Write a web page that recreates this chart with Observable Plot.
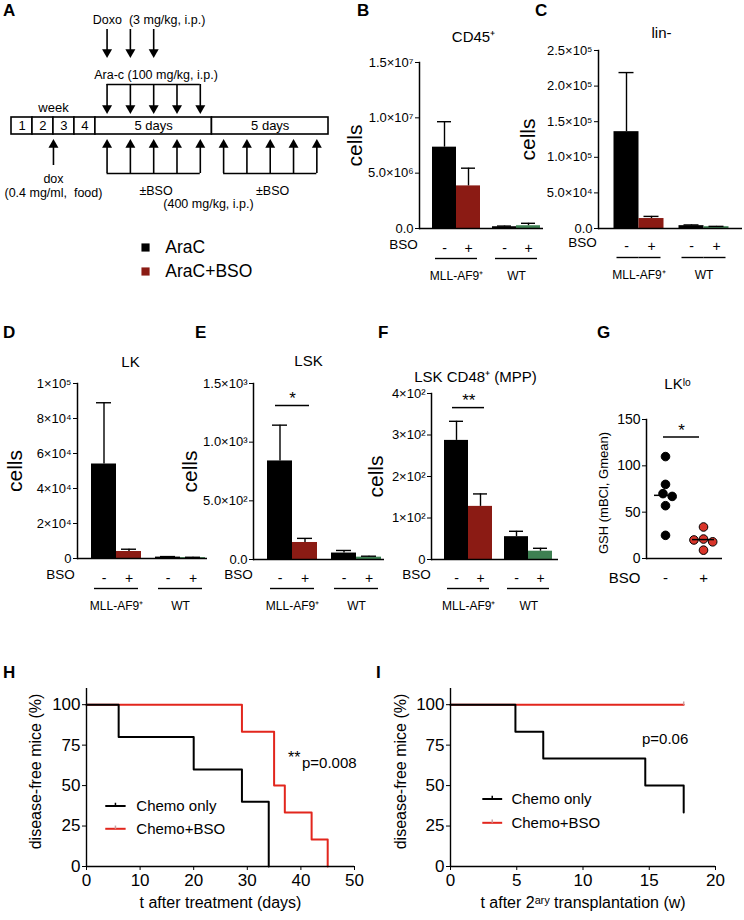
<!DOCTYPE html>
<html><head><meta charset="utf-8">
<script src="https://cdn.jsdelivr.net/npm/d3@7"></script>
<script src="https://cdn.jsdelivr.net/npm/@observablehq/plot@0.6"></script>
<style>
body{margin:0;background:#fff;font-family:"Liberation Sans",Arial,Helvetica,sans-serif;}
#fig{position:relative;width:744px;height:920px;overflow:hidden;background:#fff;}
.panel{position:absolute;}
.panel svg{overflow:visible;}
.letter{position:absolute;font-weight:bold;font-size:17px;line-height:17px;font-family:"Liberation Sans",Arial,sans-serif;}
.err{position:absolute;left:0;top:0;font-size:10px;color:red;width:330px;}
</style></head><body><div id="fig"></div>
<script>
// ---------------- DATA ----------------
const groups = ["MLL-AF9⁺", "WT"];
const bsoLevels = ["-", "+"];
const barColors = ["#000000", "#8b1b14", "#000000", "#3e8052"];

// B: CD45+
const cd45Mean = [7.35e6, 3.85e6, 1.6e5, 2.5e5];
const cd45Sem  = [2.3e6, 1.6e6, 0.6e5, 2.2e5];
const cd45Ticks = [0, 5e6, 1e7, 1.5e7];
// C: lin-
const linMean = [1.36e5, 1.4e4, 4.0e3, 2.5e3];
const linSem  = [0.83e5, 0.3e4, 1.0e3, 0.5e3];
const linTicks = [0, 5e4, 1e5, 1.5e5, 2e5, 2.5e5];
// D: LK
const lkMean = [5.4e4, 4.0e3, 8.0e2, 5.0e2];
const lkSem  = [3.5e4, 1.3e3, 3.0e2, 2.0e2];
const lkTicks = [0, 2e4, 4e4, 6e4, 8e4, 1e5];
// E: LSK
const lskMean = [840, 145, 55, 20];
const lskSem  = [305, 35, 22, 8];
const lskTicks = [0, 500, 1000, 1500];
// F: LSK CD48+ (MPP)
const mppMean = [287, 128, 55, 20];
const mppSem  = [46, 30, 13, 7];
const mppTicks = [0, 100, 200, 300, 400];
// G: GSH in LK-lo
const gshMinus = [110, 80, 70, 67, 57, 25];
const gshPlus  = [34, 21, 20, 18, 9];
const gshTicks = [0, 50, 100, 150];
// H: survival after treatment (days)
const hChemoT = [0, 6, 20, 29, 34];
const hChemoS = [100, 80, 60, 40, 0];
const hBsoT = [0, 29, 35, 37, 42, 45];
const hBsoS = [100, 83.3, 50, 33.3, 16.7, 0];
// I: survival after 2ary transplantation (w)
const iChemoT = [0, 4.9, 7, 14.7, 17.6];
const iChemoS = [100, 83.3, 66.7, 50, 33.3];
const iBsoT = [0, 17.6];
const iBsoS = [100, 100];
const kmTicksY = [0, 25, 50, 75, 100];
// A: schematic
const weeks = [1, 2, 3, 4];
const phases = [{label: "5 days", start: 0, end: 5}, {label: "5 days", start: 5, end: 10}];
const doxoDays = [1, 2, 3];
const aracDays = [1, 2, 3, 4, 5];
const bsoDays1 = [1, 2, 3, 4, 5];
const bsoDays2 = [6, 7, 8, 9, 10];
const doxWeek = 2;
const legendA = [{label: "AraC", color: "#000000"}, {label: "AraC+BSO", color: "#8b1b14"}];

// ---------------- HELPERS ----------------
const FONT = '"Liberation Sans", Arial, Helvetica, sans-serif';
const baseStyle = {fontFamily: FONT, fontSize: "12px", background: "transparent", overflow: "visible", color: "black"};
const SUP = "⁰¹²³⁴⁵⁶⁷⁸⁹";
const sup = n => String(n).split("").map(c => SUP[+c]).join("");
const sci = dec => d => {
  if (d === 0) return dec ? (0).toFixed(dec) : "0";
  const e = Math.floor(Math.log10(d) + 1e-9);
  return (d / Math.pow(10, e)).toFixed(dec) + "×10" + sup(e);
};
const fig = document.getElementById("fig");
function place(node, left, top) {
  const d = document.createElement("div");
  d.className = "panel"; d.style.left = left + "px"; d.style.top = top + "px";
  d.appendChild(node); fig.appendChild(d);
}
function letter(t, left, top) {
  const d = document.createElement("div");
  d.className = "letter"; d.style.left = left + "px"; d.style.top = top + "px";
  d.textContent = t; fig.appendChild(d);
}
function safe(fn) {
  try { fn(); } catch (e) {
    const d = document.createElement("div"); d.className = "err"; d.textContent = String(e); fig.appendChild(d);
  }
}

// ---------------- PANEL A ----------------
safe(function () {
  const wk = 0.9;                       // drawn width of a week box, in day units
  const wx = w => (w - 5) * wk;         // left edge of week box w
  const R = {doxoText: 19, doxoTop: 29, doxoTip: 57, aracText: 74, aracBar: 84, aracTip: 113,
             boxTop: 117, boxBottom: 134, bsoTip: 139, bsoBar: 173, bsoText: 190, bsoDose: 203,
             weekText: 107, doxText: 178, doxDose: 192, doxBottom: 165};
  const legX = 2.15, legTextX = 3.0, legY = [247, 271];
  const head = 5.3;
  const down = (xs, top, tip) => [
    Plot.ruleX(xs, {x: d => d, y1: top, y2: tip - 6, strokeWidth: 1.6}),
    Plot.dot(xs, {x: d => d, y: tip - head, symbol: "triangle", r: 3.7, rotate: 180, fill: "black"})
  ];
  const up = (xs, bottom, tip) => [
    Plot.ruleX(xs, {x: d => d, y1: bottom, y2: tip + 6, strokeWidth: 1.6}),
    Plot.dot(xs, {x: d => d, y: tip + head, symbol: "triangle", r: 3.7, fill: "black"})
  ];
  const mid = days => days.map(d => d - 0.5);
  const span = days => [{a: d3.min(days) - 0.5, b: d3.max(days) - 0.5}];
  const svg = Plot.plot({
    width: 340, height: 300, margin: 0,
    x: {domain: [wx(1), 10], range: [11, 328], axis: null},
    y: {domain: [0, 300], range: [0, 300], axis: null},
    color: {type: "identity"},
    style: baseStyle,
    marks: [
      Plot.text(["Doxo  (3 mg/kg, i.p.)"], {x: 2.3, y: R.doxoText, fontSize: 12.5}),
      ...down(mid(doxoDays), R.doxoTop, R.doxoTip),
      Plot.text(["Ara-c (100 mg/kg, i.p.)"], {x: 2.6, y: R.aracText, fontSize: 12.5}),
      Plot.ruleY(span(aracDays), {x1: "a", x2: "b", y: R.aracBar, strokeWidth: 1.6}),
      ...down(mid(aracDays), R.aracBar, R.aracTip),
      Plot.rect(weeks, {x1: w => wx(w), x2: w => wx(w + 1), y1: R.boxTop, y2: R.boxBottom, stroke: "black", fill: "white", strokeWidth: 1.6}),
      Plot.text(weeks, {x: w => wx(w + 0.5), y: (R.boxTop + R.boxBottom) / 2, text: d => String(d), fontSize: 13}),
      Plot.rect(phases, {x1: "start", x2: "end", y1: R.boxTop, y2: R.boxBottom, stroke: "black", fill: "white", strokeWidth: 1.6}),
      Plot.text(phases, {x: d => (d.start + d.end) / 2, y: (R.boxTop + R.boxBottom) / 2, text: "label", fontSize: 13}),
      Plot.text(["week"], {x: wx(d3.mean(weeks) + 0.5), y: R.weekText, fontSize: 13}),
      ...up([wx(doxWeek + 1)], R.doxBottom, R.bsoTip),
      Plot.text(["dox"], {x: wx(doxWeek + 1), y: R.doxText, fontSize: 12.5}),
      Plot.text(["(0.4 mg/ml,  food)"], {x: wx(doxWeek + 1), y: R.doxDose, fontSize: 12.5}),
      Plot.ruleY(span(bsoDays1), {x1: "a", x2: "b", y: R.bsoBar, strokeWidth: 1.6}),
      ...up(mid(bsoDays1), R.bsoBar, R.bsoTip),
      Plot.ruleY(span(bsoDays2), {x1: "a", x2: "b", y: R.bsoBar, strokeWidth: 1.6}),
      ...up(mid(bsoDays2), R.bsoBar, R.bsoTip),
      Plot.text(["±BSO"], {x: d3.mean(bsoDays1) - 0.4, y: R.bsoText, fontSize: 12.5}),
      Plot.text(["±BSO"], {x: d3.mean(bsoDays2) - 0.4, y: R.bsoText, fontSize: 12.5}),
      Plot.text(["(400 mg/kg, i.p.)"], {x: 4.85, y: R.bsoDose, fontSize: 12.5}),
      Plot.dot(legendA, {x: legX, y: (d, i) => legY[i], symbol: "square", r: 4.6, fill: "color"}),
      Plot.text(legendA, {x: legTextX, y: (d, i) => legY[i], text: "label", textAnchor: "start", fontSize: 17.5})
    ]
  });
  place(svg, 0, 0);
});

// ---------------- BAR PANELS ----------------
function barPanel(p) {
  const cats = ["M-", "M+", "W-", "W+"];
  const rows = cats.map((c, i) => ({cat: c, group: groups[i >> 1], bso: bsoLevels[i % 2], mean: p.mean[i], sem: p.sem[i], color: barColors[i]}));
  const bw = (p.bands[1] - p.bands[0]) / 4;
  const L = p.left, T = p.top;
  const marks = [];
  groups.forEach((g, gi) => {
    const dx = gi === 0 ? -p.shift : p.shift;
    const sub = rows.filter(r => r.group === g);
    marks.push(
      Plot.barY(sub, {x: "cat", y: "mean", fill: "color", dx}),
      Plot.ruleX(sub, {x: "cat", y1: "mean", y2: d => d.mean + d.sem, strokeWidth: 1.4, dx}),
      Plot.tickY(sub, {x: "cat", y: d => d.mean + d.sem, strokeWidth: 1.4, inset: 5, dx}),
      Plot.text(sub, {x: "cat", y: 0, text: "bso", dx, dy: p.rowsDy[0], fontSize: 14}),
      Plot.tickY(sub.filter(d => d.bso === "-"), {x: "cat", y: 0, dx, dy: p.rowsDy[1], insetLeft: 3, strokeWidth: 1.4}),
      Plot.tickY(sub.filter(d => d.bso === "+"), {x: "cat", y: 0, dx, dy: p.rowsDy[1], insetRight: 3, strokeWidth: 1.4}),
      Plot.text(sub.filter(d => d.bso === "-"), {x: "cat", y: 0, text: "group", dx: dx + bw / 2, dy: p.rowsDy[2], fontSize: 12})
    );
  });
  marks.push(
    Plot.ruleY([0], {strokeWidth: 1.5}),
    Plot.frame({anchor: "left", strokeWidth: 1.5}),
    Plot.axisY({ticks: p.ticks, tickFormat: sci(p.dec), tickSize: 4, tickPadding: 2, fontSize: 13, label: null}),
    Plot.text(["BSO"], {frameAnchor: "bottom-left", textAnchor: "middle", dx: p.bsoX - p.axisX, dy: p.rowsDy[0], fontSize: 13.5}),
    Plot.text(["cells"], {frameAnchor: "left", textAnchor: "middle", rotate: -90, dx: p.cellsX - p.axisX, fontSize: 21}),
    Plot.text([p.title], {frameAnchor: "top-left", textAnchor: "middle", dx: p.titleX - p.axisX, dy: p.titleY - p.yTop, fontSize: 15})
  );
  if (p.sig) {
    marks.push(
      Plot.ruleY([p.sig], {x1: () => "M-", x2: () => "M+", y: "y", dx: -p.shift, insetLeft: p.sigInset, insetRight: p.sigInset, strokeWidth: 1.5}),
      Plot.text([p.sig], {x: () => "M-", y: "y", text: "label", dx: -p.shift + bw / 2, dy: -7, fontSize: 17})
    );
  }
  const svg = Plot.plot({
    width: p.width, height: p.height,
    marginLeft: p.axisX - L, marginRight: L + p.width - p.axisEnd,
    marginTop: p.yTop - T, marginBottom: T + p.height - p.y0,
    x: {type: "band", domain: cats, range: [p.bands[0] - L, p.bands[1] - L], padding: 0, axis: null},
    y: {domain: [0, p.max]},
    color: {type: "identity"},
    style: baseStyle,
    marks
  });
  place(svg, L, T);
}

safe(() => barPanel({left: 335, top: 40, width: 212, height: 250, axisX: 419, axisEnd: 543, yTop: 62, y0: 228,
  bands: [438, 534], shift: 6, max: 1.5e7, ticks: cd45Ticks, dec: 1, mean: cd45Mean, sem: cd45Sem,
  title: "CD45⁺", titleX: 473, titleY: 31, bsoX: 403, cellsX: 355, rowsDy: [20, 30, 48]}));
safe(() => barPanel({left: 510, top: 40, width: 234, height: 250, axisX: 598, axisEnd: 742, yTop: 50, y0: 228,
  bands: [620.5, 720.5], shift: 7.5, max: 2.5e5, ticks: linTicks, dec: 1, mean: linMean, sem: linSem,
  title: "lin-", titleX: 661, titleY: 27, bsoX: 582, cellsX: 528, rowsDy: [18, 29, 47]}));
safe(() => barPanel({left: 0, top: 340, width: 210, height: 280, axisX: 77, axisEnd: 207, yTop: 383, y0: 558,
  bands: [98, 198], shift: 7, max: 1e5, ticks: lkTicks, dec: 0, mean: lkMean, sem: lkSem,
  title: "LK", titleX: 130, titleY: 356, bsoX: 60, cellsX: 15, rowsDy: [20, 30, 48]}));
safe(() => barPanel({left: 180, top: 340, width: 205, height: 280, axisX: 253, axisEnd: 384, yTop: 383, y0: 559,
  bands: [274, 374], shift: 7, max: 1500, ticks: lskTicks, dec: 1, mean: lskMean, sem: lskSem,
  title: "LSK", titleX: 308, titleY: 355, bsoX: 238, cellsX: 190, rowsDy: [19, 29, 47],
  sig: {y: 1312, label: "*"}, sigInset: 8}));
safe(() => barPanel({left: 360, top: 340, width: 200, height: 280, axisX: 431, axisEnd: 558, yTop: 393, y0: 559,
  bands: [449, 547], shift: 6, max: 400, ticks: mppTicks, dec: 0, mean: mppMean, sem: mppSem,
  title: "LSK CD48⁺ (MPP)", titleX: 475, titleY: 371, bsoX: 416, cellsX: 376, rowsDy: [19, 29, 47],
  sig: {y: 366, label: "**"}, sigInset: 8}));

// ---------------- PANEL G ----------------
safe(function () {
  const gRows = [...gshMinus.map(v => ({bso: "-", value: v})), ...gshPlus.map(v => ({bso: "+", value: v}))];
  const gStats = bsoLevels.map(b => {
    const v = gRows.filter(r => r.bso === b).map(r => r.value);
    const m = d3.mean(v), se = d3.deviation(v) / Math.sqrt(v.length);
    return {bso: b, mean: m, lo: m - se, hi: m + se};
  });
  const sig = [{bso: "-", y: 131, label: "*"}];
  const svg = Plot.plot({
    width: 194, height: 260, marginLeft: 96, marginRight: 22, marginTop: 79, marginBottom: 42,
    fx: {domain: bsoLevels, padding: 0, axis: null},
    y: {domain: [0, 150]},
    style: baseStyle,
    marks: [
      Plot.ruleY([0], {strokeWidth: 1.5}),
      Plot.frame({anchor: "left", strokeWidth: 1.5, facetAnchor: "left"}),
      Plot.axisY({ticks: gshTicks, tickSize: 4, tickPadding: 2, fontSize: 14, label: null}),
      Plot.dot(gRows, Plot.dodgeX("middle", {fx: "bso", y: "value", r: 4.3, fill: d => d.bso === "-" ? "#000" : "#d8352a", stroke: "#000", strokeWidth: 1})),
      Plot.tickY(gStats, {fx: "bso", y: "mean", inset: 8, strokeWidth: 1.5}),
      Plot.ruleX(gStats, {fx: "bso", y1: "lo", y2: "hi", strokeWidth: 1.5}),
      Plot.ruleY(sig, {fx: "bso", y: "y", insetLeft: 17, insetRight: -15, strokeWidth: 1.5}),
      Plot.text(sig, {fx: "bso", y: "y", text: "label", dx: 16, dy: -7, fontSize: 17}),
      Plot.text(gStats, {fx: "bso", text: "bso", frameAnchor: "bottom", dy: 24, fontSize: 15}),
      Plot.text(["BSO"], {frameAnchor: "bottom-left", textAnchor: "middle", dx: -22, dy: 24, fontSize: 15, facetAnchor: "left"}),
      Plot.text(["GSH (mBCl, Gmean)"], {frameAnchor: "left", textAnchor: "middle", rotate: -90, dx: -43, dy: 4, fontSize: 13, facetAnchor: "left"}),
      Plot.text(["LKˡᵒ"], {frameAnchor: "top-left", textAnchor: "middle", dx: 31, dy: -41, fontSize: 15, facetAnchor: "left"})
    ]
  });
  place(svg, 550, 340);
});

// ---------------- KM PANELS ----------------
function kmPanel(p) {
  const rows = [];
  p.series.forEach(s => s.t.forEach((t, i) => rows.push({name: s.name, t, s: s.s[i], color: s.color})));
  const leg = p.series.slice().reverse().map((s, i) => ({name: s.name, color: s.color, ly: p.legend.y[i]}));
  const mid = (p.legend.x1 + p.legend.x2) / 2;
  const svg = Plot.plot({
    width: p.width, height: p.height,
    marginLeft: p.marginLeft, marginRight: p.marginRight, marginTop: 28, marginBottom: 54,
    x: {domain: p.xDomain},
    y: {domain: [0, 110]},
    color: {type: "identity"},
    style: baseStyle,
    marks: [
      Plot.line(rows, {x: "t", y: "s", z: "name", stroke: "color", curve: "step-after", strokeWidth: 2}),
      ...(p.censor ? [Plot.link(p.censor, {x1: "t", x2: "t", y1: "s", y2: d => d.s + 2, stroke: "#c9a0a0", strokeWidth: 1.5})] : []),
      Plot.ruleY([0], {strokeWidth: 1.4}),
      Plot.ruleX([0], {strokeWidth: 1.4}),
      Plot.axisX({ticks: p.xTicks, tickSize: 4, tickPadding: 3, fontSize: 17, label: null}),
      Plot.axisY({ticks: kmTicksY, tickSize: 4, tickPadding: 2, fontSize: 17, label: null}),
      Plot.text([p.xLabel], {frameAnchor: "bottom", dy: 41, fontSize: 16}),
      Plot.text(["disease-free mice (%)"], {frameAnchor: "left", textAnchor: "middle", rotate: -90, dx: p.yLabelDx, dy: -6, fontSize: 16}),
      Plot.link(leg, {x1: p.legend.x1, x2: p.legend.x2, y1: "ly", y2: "ly", stroke: "color", strokeWidth: 2}),
      Plot.link(leg, {x1: mid, x2: mid, y1: "ly", y2: d => d.ly + 2, stroke: d => d.color === "#000000" ? "#000" : "#c9a0a0", strokeWidth: 1.5}),
      Plot.text(leg, {x: p.legend.tx, y: "ly", text: "name", textAnchor: "start", fontSize: 15}),
      ...p.notes.map(n => Plot.text([n], {x: "x", y: "y", text: "text", textAnchor: n.anchor, fontSize: n.size}))
    ]
  });
  place(svg, p.left, p.top);
}
safe(() => kmPanel({left: 0, top: 660, width: 372, height: 260, marginLeft: 86, marginRight: 18,
  xDomain: [0, 50], xTicks: [0, 10, 20, 30, 40, 50], xLabel: "t after treatment (days)", yLabelDx: -51,
  series: [
    {name: "Chemo+BSO", t: hBsoT, s: hBsoS, color: "#e2261d"},
    {name: "Chemo only", t: hChemoT, s: hChemoS, color: "#000000"}
  ],
  legend: {x1: 3.5, x2: 7.3, tx: 9.3, y: [37.4, 23.3]},
  notes: [{x: 37.6, y: 67, text: "**", anchor: "start", size: 16}, {x: 40.2, y: 64, text: "p=0.008", anchor: "start", size: 15}]}));
safe(() => kmPanel({left: 372, top: 660, width: 372, height: 260, marginLeft: 78, marginRight: 29,
  xDomain: [0, 20], xTicks: [0, 5, 10, 15, 20], xLabel: "t after 2ᵃʳʸ transplantation (w)", yLabelDx: -50,
  series: [
    {name: "Chemo+BSO", t: iBsoT, s: iBsoS, color: "#e2261d"},
    {name: "Chemo only", t: iChemoT, s: iChemoS, color: "#000000"}
  ],
  censor: [{t: iBsoT[iBsoT.length - 1], s: iBsoS[iBsoS.length - 1]}],
  legend: {x1: 2.4, x2: 3.9, tx: 4.6, y: [41.7, 27]},
  notes: [{x: 16.2, y: 78.5, text: "p=0.06", anchor: "middle", size: 15}]}));

// ---------------- PANEL LETTERS ----------------
letter("A", 3, 2); letter("B", 357, 2); letter("C", 535, 2);
letter("D", 3, 324); letter("E", 195, 324); letter("F", 378, 324); letter("G", 597, 324);
letter("H", 3, 664); letter("I", 376, 664);
</script></body></html>
